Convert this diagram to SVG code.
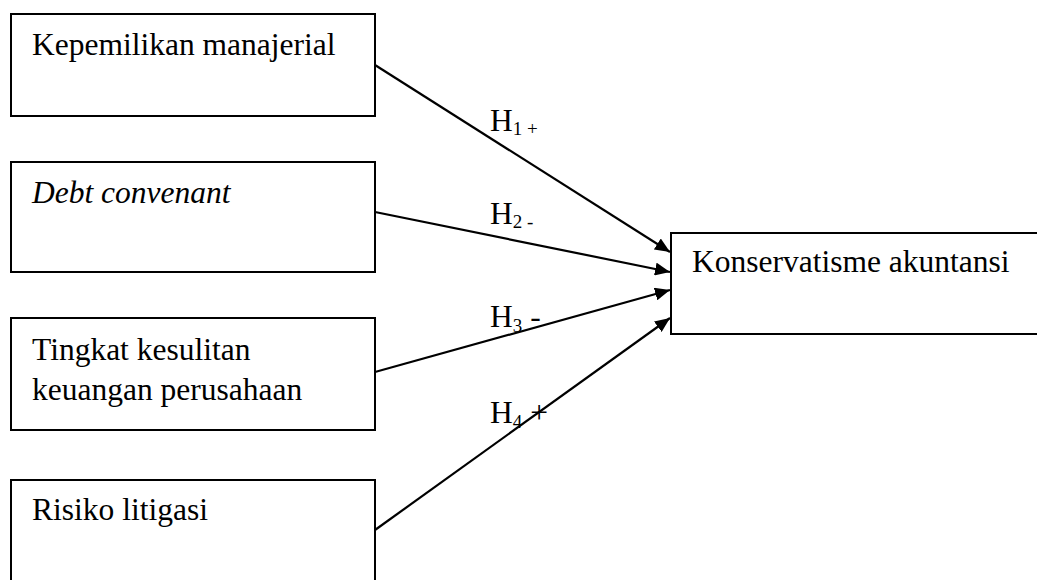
<svg xmlns="http://www.w3.org/2000/svg" width="1037" height="580" viewBox="0 0 1037 580">
  <defs>
    <marker id="arrow" markerUnits="userSpaceOnUse" markerWidth="16" markerHeight="13" refX="15" refY="6.5" orient="auto">
      <path d="M0,0 L15,6.5 L0,13 z" fill="#000"/>
    </marker>
    <style>
      .box { fill: #fff; stroke: #000; stroke-width: 2; }
      .lbl { font-family: "Liberation Serif", "Times New Roman", serif; font-size: 31.5px; fill: #000; }
      .it { font-style: italic; }
      .sub { font-size: 19px; }
      .conn { stroke: #000; stroke-width: 2.2; fill: none; marker-end: url(#arrow); }
    </style>
  </defs>
  <rect width="1037" height="580" fill="#fff"/>

  <g id="connectors">
    <line class="conn" x1="375" y1="65" x2="670" y2="252"/>
    <line class="conn" x1="375" y1="212" x2="670" y2="272"/>
    <line class="conn" x1="375" y1="372" x2="670" y2="290"/>
    <line class="conn" x1="375" y1="530" x2="670" y2="318"/>
  </g>

  <g id="labels">
    <text class="lbl" x="490" y="131">H<tspan class="sub" dy="4">1 +</tspan></text>
    <text class="lbl" x="490" y="224">H<tspan class="sub" dy="4">2 -</tspan></text>
    <text class="lbl" x="490" y="327">H<tspan class="sub" dy="5">3</tspan><tspan dy="-5"> -</tspan></text>
    <text class="lbl" x="490" y="423">H<tspan class="sub" dy="5">4</tspan><tspan dy="-5"> +</tspan></text>
  </g>

  <g id="node-kepemilikan">
    <rect class="box" x="11" y="14" width="364" height="102"/>
    <text class="lbl" x="32" y="55">Kepemilikan manajerial</text>
  </g>

  <g id="node-debt">
    <rect class="box" x="11" y="162" width="364" height="110"/>
    <text class="lbl it" x="32" y="203">Debt convenant</text>
  </g>

  <g id="node-kesulitan">
    <rect class="box" x="11" y="318" width="364" height="112"/>
    <text class="lbl" x="32" y="360">Tingkat kesulitan</text>
    <text class="lbl" x="32" y="400">keuangan perusahaan</text>
  </g>

  <g id="node-risiko">
    <rect class="box" x="11" y="480" width="364" height="120"/>
    <text class="lbl" x="32" y="520">Risiko litigasi</text>
  </g>

  <g id="node-konservatisme">
    <rect class="box" x="671" y="233" width="380" height="101"/>
    <text class="lbl" x="692" y="272">Konservatisme akuntansi</text>
  </g>
</svg>
